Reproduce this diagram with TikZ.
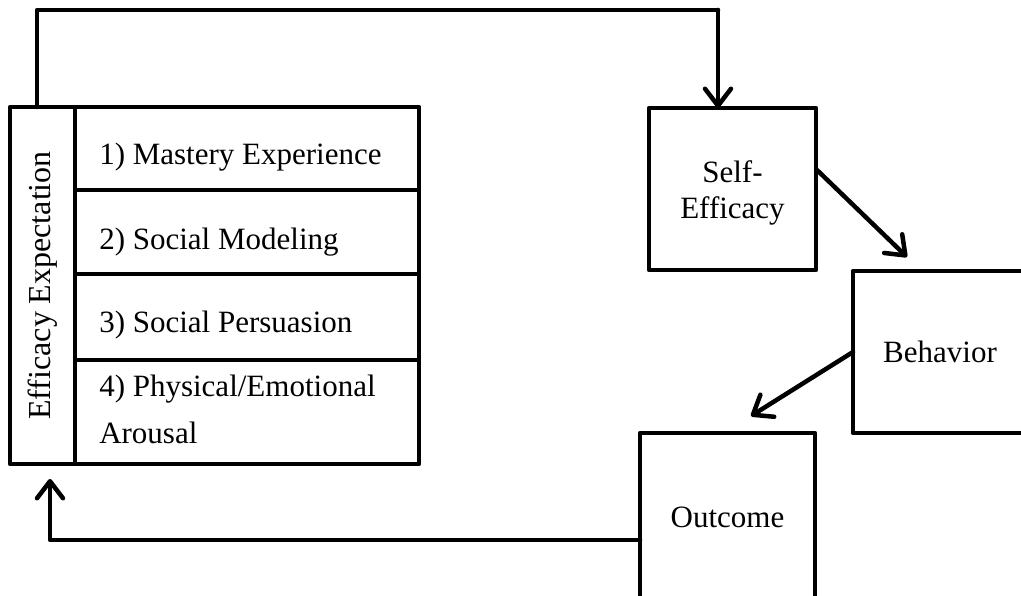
\documentclass[tikz,border=0pt]{standalone}
\usepackage{fontspec}
\setmainfont{Liberation Serif}
\usetikzlibrary{arrows.meta,calc}
\begin{document}
\begin{tikzpicture}[x=1pt,y=-1pt,
  line width=4.5pt, line join=round,
  box/.style={draw, rectangle, inner sep=0pt, outer sep=0pt, align=center,
    font=\fontsize{31}{36}\selectfont},
  item/.style={draw, rectangle, inner sep=0pt, outer sep=0pt, minimum width=344pt},
  txt/.style={inner sep=0pt, align=left, font=\fontsize{31}{47}\selectfont},
  arr/.style={-{Straight Barb[length=17pt,width=26pt,line width=4.5pt,round]}, line cap=round}
]
\useasboundingbox (0,0) rectangle (1021,596);
\clip (0,0) rectangle (1021,596);

\node[box, minimum width=65pt, minimum height=357pt] (eff) at (42.5,285.5)
  {\rotatebox{90}{\fontsize{32}{36}\selectfont Efficacy Expectation}};
\node[item, minimum height=83pt] (i1) at (247,148.5) {};
\node[item, minimum height=84pt] (i2) at (247,232) {};
\node[item, minimum height=86pt] (i3) at (247,317) {};
\node[item, minimum height=104pt] (i4) at (247,412) {};
\node[txt, anchor=west] (l1) at (97,157.5) {1) Mastery Experience};
\node[txt, anchor=west] (l2) at (97,242) {2) Social Modeling};
\node[txt, anchor=west] (l3) at (97,325.5) {3) Social Persuasion};
\node[txt, anchor=west] (l4) at (97,409) {4) Physical/Emotional\\Arousal};

\node[box, minimum width=167pt, minimum height=162pt] (se) at (732.5,189) {};
\node[txt, align=center, font=\fontsize{31}{36}\selectfont] (set) at (732.5,193) {Self-\\Efficacy};
\node[box, minimum width=174pt, minimum height=162pt] (beh) at (940,352) {Behavior};
\node[box, minimum width=175pt, minimum height=168pt] (out) at (727.5,517) {Outcome};

\coordinate (t1) at (37,10);
\coordinate (t2) at (718,10);
\draw[line cap=round] (eff.north -| t1) -- (t1) -- (t2);
\draw[arr] (t2) -- (t2 |- se.north);

\coordinate (s1) at (817,170);
\coordinate (s2) at (907,257);
\draw[arr] (s1) -- (s2);

\coordinate (o2) at (751,416);
\draw[arr] (beh.west) -- (o2);

\coordinate (b1) at (50,540);
\coordinate (b2) at (50,479);
\draw[arr] (out.west |- b1) -- (b1) -- (b2);
\end{tikzpicture}
\end{document}
